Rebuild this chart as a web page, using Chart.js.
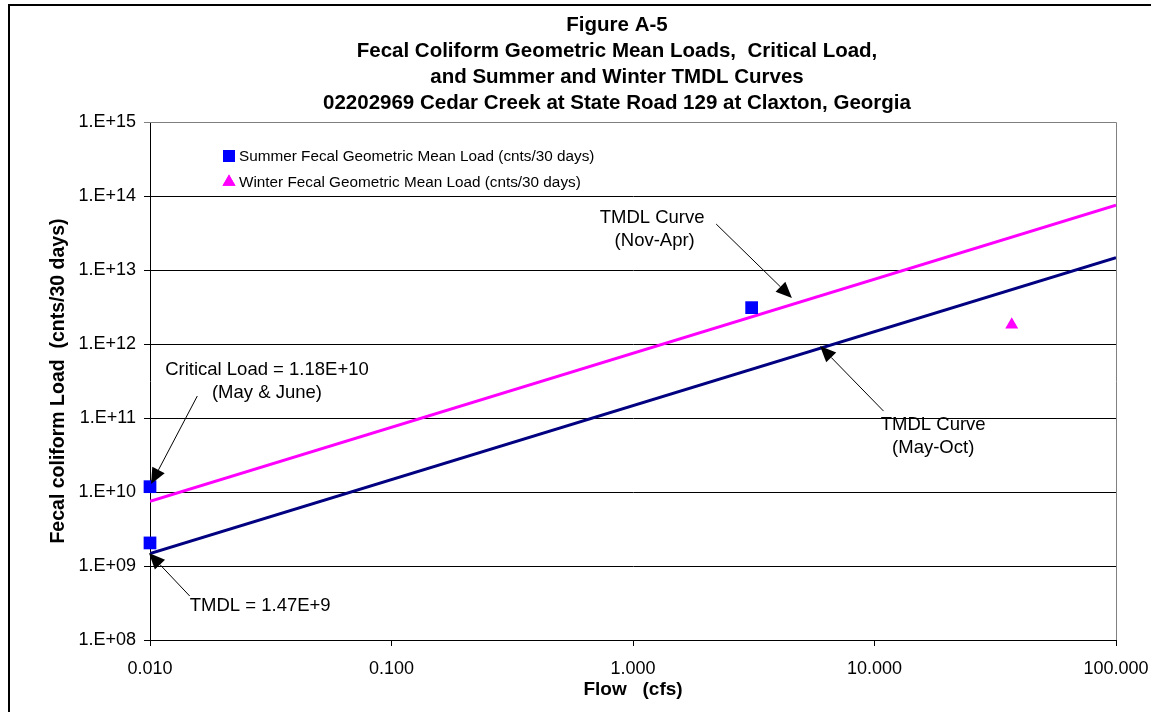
<!DOCTYPE html>
<html>
<head>
<meta charset="utf-8">
<script src="https://cdn.jsdelivr.net/npm/chart.js@4"></script>
<style>
  body { margin: 0; background: #fff; }
  #wrap { width: 1151px; height: 712px; }
</style>
</head>
<body>
<div id="wrap"><canvas id="loadChart"></canvas></div>
<script>
// data
const summerFlow = [0.01, 0.01, 3.1];
const summerLoad = [1.18e10, 2.05e9, 3.1e12];
const winterFlow = [37];
const winterLoad = [1.82e12];

const curveFlow = [0.01, 100];
const summerCurve = [1.47e9, 1.47e13];   // TMDL May-Oct
const winterCurve = [7.5e9, 7.5e13];     // TMDL Nov-Apr

const xTicks = [0.01, 0.1, 1, 10, 100];
const yTicks = [1e8, 1e9, 1e10, 1e11, 1e12, 1e13, 1e14, 1e15];

const titleLines = [
  'Figure A-5',
  'Fecal Coliform Geometric Mean Loads,  Critical Load,',
  'and Summer and Winter TMDL Curves',
  '02202969 Cedar Creek at State Road 129 at Claxton, Georgia'
];

// callouts: text anchor and arrow given in (flow, load)
const notes = [
  { text: ['Critical Load = 1.18E+10', '(May & June)'], at: [0.0305, 4.45e11], from: [0.0157, 1.98e11], to: [0.0101, 1.28e10] },
  { text: ['TMDL = 1.47E+9'], at: [0.0286, 2.88e8], from: [0.0146, 3.93e8], to: [0.0099, 1.5e9] },
  { text: ['TMDL Curve', ' (Nov-Apr)'], at: [1.2, 5.05e13], from: [2.21, 4.18e13], to: [4.55, 4.18e12] },
  { text: ['TMDL Curve', '(May-Oct)'], at: [17.5, 8.04e10], from: [10.9, 1.24e11], to: [5.95, 9.4e11] }
];

const FONT = '"Liberation Sans", Arial, sans-serif';

function pts(xs, ys) {
  return xs.map((x, i) => ({ x: x, y: ys[i] }));
}

const framePlugin = {
  id: 'frame',
  beforeDraw(chart) {
    const c = chart.ctx;
    c.save();
    c.strokeStyle = '#000';
    c.lineWidth = 2;
    c.strokeRect(9, 5, 1200, 800);
    // title, centred a little left of the plot centre as in the figure
    c.fillStyle = '#000';
    c.font = 'bold 20.5px ' + FONT;
    c.textAlign = 'center';
    c.textBaseline = 'middle';
    titleLines.forEach((t, i) => c.fillText(t, 617, 25 + i * 26));
    c.restore();
  },
  beforeDatasetsDraw(chart) {
    const a = chart.chartArea, c = chart.ctx;
    c.save();
    c.strokeStyle = '#808080';
    c.lineWidth = 1;
    c.beginPath();
    c.moveTo(a.left, a.top + 0.5);
    c.lineTo(a.right + 0.5, a.top + 0.5);
    c.lineTo(a.right + 0.5, a.bottom);
    c.stroke();
    c.restore();
  }
};

const notesPlugin = {
  id: 'notes',
  afterDatasetsDraw(chart) {
    const c = chart.ctx, xs = chart.scales.x, ys = chart.scales.y, a = chart.chartArea;
    c.save();
    c.fillStyle = '#000';
    c.strokeStyle = '#000';
    c.font = '18.5px ' + FONT;
    c.textAlign = 'center';
    c.textBaseline = 'middle';
    notes.forEach(n => {
      const tx = xs.getPixelForValue(n.at[0]), ty = ys.getPixelForValue(n.at[1]);
      n.text.forEach((t, i) => c.fillText(t, tx, ty + i * 23));
      const x1 = xs.getPixelForValue(n.from[0]), y1 = ys.getPixelForValue(n.from[1]);
      const x2 = xs.getPixelForValue(n.to[0]), y2 = ys.getPixelForValue(n.to[1]);
      const ang = Math.atan2(y2 - y1, x2 - x1);
      const hl = 16, hw = 7;
      const bx = x2 - hl * Math.cos(ang), by = y2 - hl * Math.sin(ang);
      c.lineWidth = 1;
      c.beginPath();
      c.moveTo(x1, y1);
      c.lineTo(bx, by);
      c.stroke();
      c.beginPath();
      c.moveTo(x2, y2);
      c.lineTo(bx + hw * Math.sin(ang), by - hw * Math.cos(ang));
      c.lineTo(bx - hw * Math.sin(ang), by + hw * Math.cos(ang));
      c.closePath();
      c.fill();
    });

    // legend box inside the plot
    c.font = '15.3px ' + FONT;
    c.textAlign = 'left';
    const items = chart.data.datasets.filter(d => d.inLegend);
    items.forEach((d, i) => {
      const px = a.left + 79, py = a.top + 34 + i * 26;
      c.fillStyle = d.backgroundColor;
      Chart.helpers.drawPoint(c, { pointStyle: d.pointStyle, radius: d.legendRadius, rotation: 0, borderWidth: 0 }, px, py);
      c.fill();
      c.fillStyle = '#000';
      c.fillText(d.label, px + 10, py + 1);
    });
    c.restore();
  }
};

new Chart(document.getElementById('loadChart'), {
  type: 'scatter',
  data: {
    datasets: [
      {
        label: 'Summer Fecal Geometric Mean Load (cnts/30 days)',
        data: pts(summerFlow, summerLoad),
        pointStyle: 'rect',
        pointRadius: 9,
        legendRadius: 8.5,
        backgroundColor: '#0000ff',
        borderColor: '#0000ff',
        borderWidth: 0,
        clip: false,
        inLegend: true
      },
      {
        label: 'Winter Fecal Geometric Mean Load (cnts/30 days)',
        data: pts(winterFlow, winterLoad),
        pointStyle: 'triangle',
        pointRadius: 7.5,
        legendRadius: 7.5,
        backgroundColor: '#ff00ff',
        borderColor: '#ff00ff',
        borderWidth: 0,
        clip: false,
        inLegend: true
      },
      {
        label: 'TMDL Curve (Nov-Apr)',
        data: pts(curveFlow, winterCurve),
        showLine: true,
        pointRadius: 0,
        borderColor: '#ff00ff',
        borderWidth: 3
      },
      {
        label: 'TMDL Curve (May-Oct)',
        data: pts(curveFlow, summerCurve),
        showLine: true,
        pointRadius: 0,
        borderColor: '#000080',
        borderWidth: 3
      }
    ]
  },
  options: {
    responsive: true,
    maintainAspectRatio: false,
    animation: false,
    layout: { padding: { left: 10, right: 35, top: 122, bottom: 0 } },
    plugins: {
      legend: { display: false },
      tooltip: { enabled: false },
      title: { display: false }
    },
    scales: {
      x: {
        type: 'logarithmic',
        min: 0.01,
        max: 100,
        afterBuildTicks(s) { s.ticks = xTicks.map(v => ({ value: v })); },
        afterFit(s) { s.height = 72; s.paddingLeft = 0; s.paddingRight = 0; },
        grid: { drawOnChartArea: false, drawTicks: true, tickLength: 6, color: '#000' },
        border: { color: '#000', width: 1 },
        ticks: {
          color: '#000',
          padding: 12,
          maxRotation: 0,
          font: { family: FONT, size: 18 },
          callback: v => Number(v).toFixed(3)
        },
        title: {
          display: true,
          text: 'Flow   (cfs)',
          color: '#000',
          font: { family: FONT, size: 19, weight: 'bold' },
          padding: { top: 0, bottom: 11 }
        }
      },
      y: {
        type: 'logarithmic',
        min: 1e8,
        max: 1e15,
        afterBuildTicks(s) { s.ticks = yTicks.map(v => ({ value: v })); },
        afterFit(s) { s.width = 140; s.paddingTop = 0; s.paddingBottom = 0; },
        grid: {
          drawTicks: true,
          tickLength: 6,
          color: ctx => (ctx.tick && ctx.tick.value === 1e15) ? '#808080' : '#000'
        },
        border: { color: '#000', width: 1 },
        ticks: {
          color: '#000',
          padding: 8,
          font: { family: FONT, size: 18 },
          callback: v => '1.E+' + String(Math.round(Math.log10(v))).padStart(2, '0')
        },
        title: {
          display: true,
          text: 'Fecal coliform Load  (cnts/30 days)',
          color: '#000',
          font: { family: FONT, size: 19.5, weight: 'bold' },
          padding: { top: 37, bottom: 0 }
        }
      }
    }
  },
  plugins: [framePlugin, notesPlugin]
});
</script>
</body>
</html>
